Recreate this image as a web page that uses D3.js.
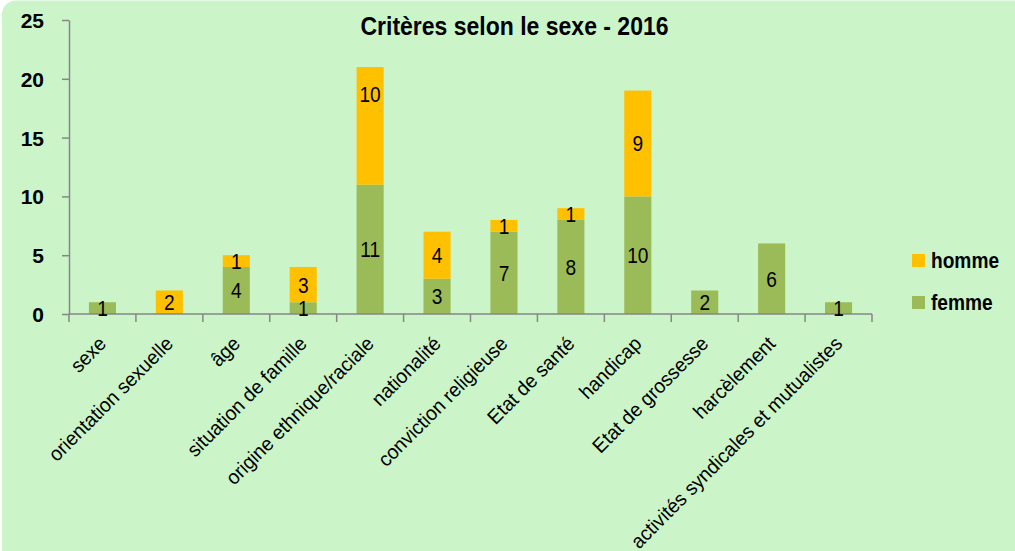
<!DOCTYPE html>
<html><head><meta charset="utf-8">
<script src="https://cdn.jsdelivr.net/npm/d3@7"></script>
<style>html,body{margin:0;padding:0;background:#fff;}svg{display:block;}</style>
</head><body>
<script>
const categories = ["sexe","orientation sexuelle","âge","situation de famille","origine ethnique/raciale","nationalité","conviction religieuse","Etat de santé","handicap","Etat de grossesse","harcèlement","activités syndicales et mutualistes"];
const femme = [1,0,4,1,11,3,7,8,10,2,6,1];
const homme = [0,2,1,3,10,4,1,1,9,0,0,0];
const yTicks = [0,5,10,15,20,25];
const seriesNames = ["femme","homme"];
const seriesColors = ["#9BBB59","#FFC000"];
const title = "Critères selon le sexe - 2016";

const FONT = "Liberation Sans, Arial, sans-serif";
const W = 1015, H = 551;
const svg = d3.select("body").append("svg").attr("width", W).attr("height", H);
svg.append("rect").attr("x",2).attr("y",0.5).attr("width",W+20).attr("height",H+20).attr("rx",14).attr("fill","#CBF5C9");

const x = d3.scaleBand().domain(categories).range([69, 872]).paddingInner(0.595).paddingOuter(0.2975);
const y = d3.scaleLinear().domain([0,25]).range([314, 20]);

const rows = categories.map((c,i)=>({cat:c, femme:femme[i], homme:homme[i]}));
const stack = d3.stack().keys(seriesNames)(rows);

// y axis
const yAxis = svg.append("g").attr("transform","translate(69,0)")
  .call(d3.axisLeft(y).tickValues(yTicks).tickSize(7).tickSizeOuter(0));
yAxis.select(".domain").attr("stroke","#868686").attr("stroke-width",1.5);
yAxis.selectAll(".tick line").attr("stroke","#868686").attr("stroke-width",1.5);
yAxis.selectAll(".tick text").attr("font-family",FONT).attr("font-weight","bold").attr("font-size",21).attr("fill","#000").attr("x",-25).attr("dy","0.36em");

// bars
stack.forEach((s,si)=>{
  svg.append("g").selectAll("rect").data(s).join("rect")
    .attr("x", d=>x(d.data.cat))
    .attr("width", x.bandwidth())
    .attr("y", d=>y(d[1]))
    .attr("height", d=>y(d[0])-y(d[1]))
    .attr("fill", seriesColors[si]);
});

// x axis with boundary ticks
const xg = svg.append("g");
xg.append("line").attr("x1",69).attr("x2",872).attr("y1",y(0)).attr("y2",y(0)).attr("stroke","#868686").attr("stroke-width",1.5);
const bounds = d3.range(categories.length+1).map(i=>69 + i*(803/categories.length));
xg.selectAll("line.t").data(bounds).join("line").attr("class","t")
  .attr("x1",d=>d).attr("x2",d=>d).attr("y1",y(0)).attr("y2",y(0)+8)
  .attr("stroke","#868686").attr("stroke-width",1.5);

// data labels (one label was moved by hand in the original)
const labelNudge = {"origine ethnique/raciale|homme": -32};
stack.forEach((s,si)=>{
  svg.append("g").selectAll("text").data(s.filter(d=>d[1]-d[0]>0)).join("text")
    .attr("transform", d=>{
      const cx = x(d.data.cat)+x.bandwidth()/2;
      const cy = (y(d[0])+y(d[1]))/2 + (labelNudge[d.data.cat+"|"+seriesNames[si]]||0);
      return `translate(${cx},${cy}) scale(0.87,1)`;
    })
    .attr("dy","0.36em")
    .attr("text-anchor","middle")
    .attr("font-family",FONT)
    .attr("font-size",22)
    .attr("fill","#000")
    .text(d=>d[1]-d[0]);
});

// category labels
svg.append("g").selectAll("text").data(categories).join("text")
  .attr("transform", d=>`translate(${x(d)+x.bandwidth()/2+5},${y(0)+31}) rotate(-45) scale(0.965,1)`)
  .attr("text-anchor","end")
  .attr("font-family",FONT)
  .attr("font-size",20)
  .attr("fill","#000")
  .text(d=>d);

// title
svg.append("text").attr("transform","translate(514.5,35) scale(0.92,1)").attr("text-anchor","middle")
  .attr("font-family",FONT).attr("font-weight","bold").attr("font-size",25)
  .attr("fill","#000").text(title);

// legend
const legendItems = [{name:"homme", color:seriesColors[1], y:268},{name:"femme", color:seriesColors[0], y:310}];
const lg = svg.append("g");
legendItems.forEach(it=>{
  lg.append("rect").attr("x",912).attr("y",it.y-14).attr("width",13).attr("height",13).attr("fill",it.color);
  lg.append("text").attr("transform",`translate(931,${it.y}) scale(0.87,1)`)
    .attr("font-family",FONT).attr("font-weight","bold").attr("font-size",22)
    .attr("fill","#000").text(it.name);
});
</script>
</body></html>
